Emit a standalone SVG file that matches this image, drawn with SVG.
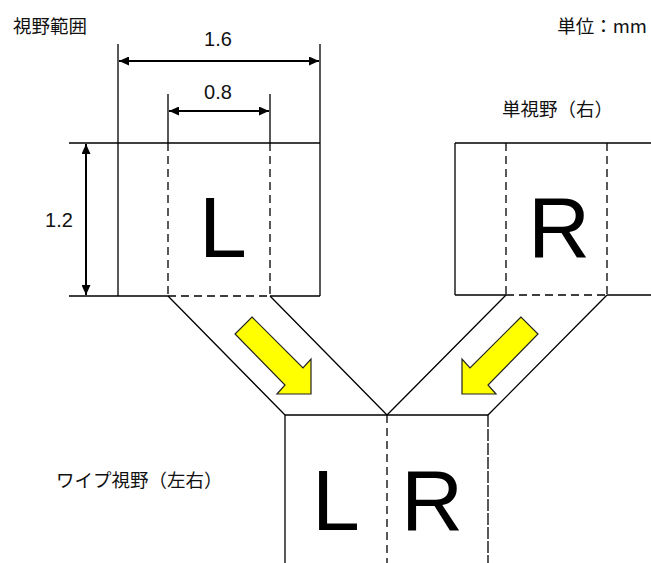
<svg xmlns="http://www.w3.org/2000/svg" width="651" height="563" viewBox="0 0 651 563">
<style>
.s{stroke:#000;stroke-width:1.3;fill:none}
.d{stroke:#000;stroke-width:1.3;fill:none;stroke-dasharray:8 5}
.dd{stroke:#000;stroke-width:1.3;fill:none;stroke-dasharray:12 2}
.dim{stroke:#000;stroke-width:2;fill:none}
.jp{font-family:"Noto Sans CJK JP","Noto Sans",sans-serif;font-size:18.5px;fill:#111}
.num{font-family:"Liberation Sans",Arial,sans-serif;font-size:20px;fill:#111}
.big{font-family:"Liberation Sans",Arial,sans-serif;font-size:86px;fill:#000}
.arr{fill:#ffff00;stroke:#222;stroke-width:1.2;stroke-linejoin:miter}
</style>
<defs>
<marker id="ah" markerWidth="10" markerHeight="9" refX="10" refY="4.5" orient="auto-start-reverse" markerUnits="userSpaceOnUse">
<path d="M0,0 L10,4.5 L0,9 Z" fill="#000"/>
</marker>
</defs>
<rect width="651" height="563" fill="#fff"/>
<g id="labels">
<text class="jp" x="13" y="33">視野範囲</text>
<text class="jp" x="647" y="33" text-anchor="end">単位：mm</text>
<text class="jp" x="502" y="116">単視野（右）</text>
<text class="jp" x="56" y="487">ワイプ視野（左右）</text>
</g>
<g id="left-view">
<path class="s" d="M118,44 V296 M320,44 V296 M69,143 H320 M69,296 H168 M270,296 H320 M168,94 V143 M270,94 V143"/>
<path class="d" d="M168,143 V296 M270,143 V296 M168,296 H270"/>
<text class="big" x="199" y="257">L</text>
</g>
<g id="right-view">
<path class="s" d="M455,143 H651 M455,295 H506 M607,295 H651 M455,143 V295"/>
<path class="d" d="M506,143 V295 M607,143 V295 M506,295 H607"/>
<text class="big" x="528" y="257">R</text>
</g>
<g id="wipe-view">
<path class="s" d="M285,415 H488 M285,415 V563"/>
<path class="d" d="M387,415 V563"/>
<path class="dd" d="M488,415 V563"/>
<text class="big" x="312" y="530">L</text>
<text class="big" x="401" y="530">R</text>
</g>
<g id="dimensions">
<line class="dim" x1="119" y1="61" x2="319" y2="61" marker-start="url(#ah)" marker-end="url(#ah)"/>
<line class="dim" x1="169" y1="111" x2="269" y2="111" marker-start="url(#ah)" marker-end="url(#ah)"/>
<line class="dim" x1="86" y1="144" x2="86" y2="295" marker-start="url(#ah)" marker-end="url(#ah)"/>
<text class="num" x="218" y="46" text-anchor="middle">1.6</text>
<text class="num" x="218" y="99" text-anchor="middle">0.8</text>
<text class="num" x="59" y="227" text-anchor="middle">1.2</text>
</g>
<g id="connectors">
<path class="s" d="M168,296 L285,415 M270,296 L387,415 M506,295 L387,415 M607,295 L488,415"/>
<polygon class="arr" points="252,317 303,368 311,359 311,394 277,394 285,385 235,334"/>
<polygon class="arr" points="521,317 470,368 462,359 462,394 496,394 488,385 538,334"/>
</g>
</svg>
